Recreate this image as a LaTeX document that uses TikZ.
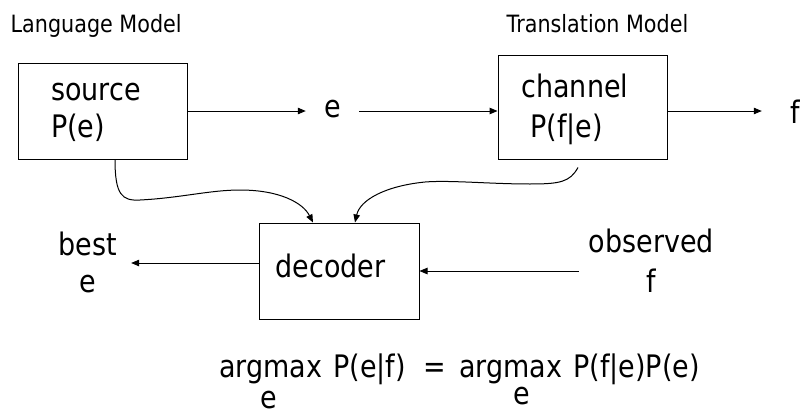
\documentclass[tikz,border=0pt]{standalone}
\usepackage{fontspec}
\setmainfont{DejaVu Sans}[FakeStretch=0.87]
\usetikzlibrary{arrows.meta}
\newcommand\mainsz{\fontsize{31}{37}\selectfont}
\newcommand\mainszb{\fontsize{31}{40}\selectfont}
\newcommand\labsz{\fontsize{23.8}{28}\selectfont}
\tikzset{
  box/.style={draw, line width=1pt, rectangle, font=\mainsz},
  txt/.style={font=\mainsz, inner sep=0pt},
  lab/.style={font=\labsz, inner sep=0pt, anchor=base west},
  arr/.style={line width=1pt, -{Triangle[length=8pt,width=6.5pt]}},
}
\begin{document}
\begin{tikzpicture}[x=1pt,y=-1pt]
\useasboundingbox (0,0) rectangle (801,415);
% labels
\node[lab] (lm) at (10.5,32) {Language Model};
\node[lab] (tm) at (506.5,32) {Translation Model};
% boxes
\node[box, minimum width=169pt, minimum height=96pt, text width=103pt, inner xsep=33pt, inner ysep=0pt,
      align=left, text height=18pt, text depth=40pt] (source) at (102.5,111) {source\\P(e)};
\node[box, font=\mainszb, minimum width=169pt, minimum height=104pt, text width=122pt, inner xsep=23.5pt, inner ysep=0pt,
      align=left, text height=20pt, text depth=40pt] (channel) at (582.5,107) {channel\\\hspace*{9pt}P(f|e)};
\node[box, minimum width=160pt, minimum height=96pt, text width=127pt, inner xsep=16.5pt, inner ysep=0pt,
      align=left, text height=20pt, text depth=8pt] (decoder) at (339,271) {decoder};
% free texts
\node[txt, inner xsep=18.2pt, text height=18pt, text depth=6pt] (e) at (332.5,111) {e};
\node[txt, inner xsep=28.25pt, text height=28pt, text depth=4pt] (f) at (795,111) {f};
\node[txt, inner xsep=13.8pt, align=center, anchor=base] (best) at (88,292) {best\\e};
\node[txt, font=\mainszb, inner xsep=10pt, align=center, anchor=base] (observed) at (651.5,292) {observed\\f};
\node[txt, anchor=base west] (eq) at (219,377)
  {argmax\hspace{11pt}P(e|f)\hspace{18pt}=\hspace{13pt}argmax\hspace{11pt}P(f|e)P(e)};
\node[txt, anchor=base] (sub1) at (268.5,408) {e};
\node[txt, anchor=base] (sub2) at (521.5,404) {e};
% straight connectors
\draw[arr] (source.east) -- (e.west);
\draw[arr] (e.east) -- (e.east -| channel.west);
\draw[arr] (e.east -| channel.east) -- (f.west);
\draw[arr] ([yshift=8pt]decoder.west) -- ([yshift=8pt]decoder.west -| best.east);
\draw[arr] (observed.west |- decoder.east) -- (decoder.east);
% curved connectors
\draw[arr] ([xshift=12.5pt]source.south) .. controls (115,195) and (122,201) .. (140,200)
   .. controls (180,198) and (210,190) .. (240,190)
   .. controls (280,190) and (303,203) .. ([xshift=-26pt]decoder.north);
\draw[arr] ([xshift=-4.5pt,yshift=-8pt]channel.south) .. controls (570,182) and (560,184) .. (530,184)
   .. controls (490,184) and (450,180) .. (425,182)
   .. controls (385,186) and (360,200) .. ([xshift=16pt]decoder.north);
\end{tikzpicture}
\end{document}
